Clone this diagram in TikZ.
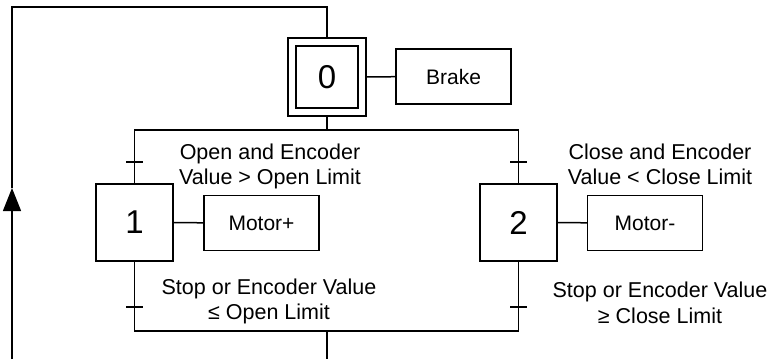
\documentclass[tikz,border=0pt]{standalone}
\usepackage{fontspec}
\setmainfont{Liberation Sans}
\usetikzlibrary{arrows.meta}
\begin{document}
\begin{tikzpicture}[x=1pt,y=-1pt,line width=1.5pt,
  actbox/.style={draw, minimum width=115pt, minimum height=55pt, inner sep=0pt, font=\fontsize{21}{25}\selectfont},
  stepbox/.style={draw, minimum size=77pt, inner sep=0pt, font=\fontsize{33}{36}\selectfont},
  lbl/.style={anchor=base, inner sep=0pt, font=\fontsize{21.5}{25}\selectfont}]
\useasboundingbox (0,0) rectangle (768,359);
% steps
\node[draw, minimum size=78pt, inner sep=0pt] (s0o) at (327,77) {};
\node[stepbox, minimum size=62pt] (s0) at (327,77) {0};
\node[stepbox] (s1) at (134.5,222.5) {1};
\node[stepbox] (s2) at (518.5,222.5) {2};
% actions
\node[actbox] (brake) at (453.5,76.5) {Brake};
\node[actbox] (mp) at (261.5,223) {Motor+};
\node[actbox] (mm) at (645,223) {Motor-};
\draw (s0o) -- (brake);
\draw (s1) -- (mp);
\draw (s2) -- (mm);
% divergence / convergence
\coordinate (jt) at (327,130);
\coordinate (jtl) at (134.5,130);
\coordinate (jtr) at (518.5,130);
\coordinate (jb) at (327,331);
\coordinate (jbl) at (134.5,331);
\coordinate (jbr) at (518.5,331);
\coordinate (bot) at (327,359);
\draw (s0o.south) -- (jt);
\draw (s1.north) -- (jtl) -- (jtr) -- (s2.north);
\draw (s1.south) -- (jbl) -- (jbr) -- (s2.south);
\draw (jb) -- (bot);
% transitions
\coordinate (t1) at (134.5,162);
\coordinate (t2) at (518.5,162);
\coordinate (t3) at (134.5,307);
\coordinate (t4) at (518.5,307);
\foreach \t in {t1,t2,t3,t4}
  \draw (\t) +(-8.5,0) -- +(8.5,0);
% loop back
\coordinate (lb) at (12,359);
\coordinate (la) at (12,188);
\coordinate (lt) at (12,7);
\coordinate (lr) at (327,7);
\draw[-{Triangle[width=18pt,length=23pt]}] (lb) -- (la);
\draw (la) -- (lt) -- (lr) -- (s0o.north);
% labels
\node[lbl] (c1a) at (270,159) {Open and Encoder};
\node[lbl] (c1b) at (270,184) {Value > Open Limit};
\node[lbl] (c2a) at (660,159) {Close and Encoder};
\node[lbl] (c2b) at (660,184) {Value < Close Limit};
\node[lbl] (c3a) at (269,294) {Stop or Encoder Value};
\node[lbl] (c3b) at (269,319) {≤ Open Limit};
\node[lbl] (c4a) at (660,297) {Stop or Encoder Value};
\node[lbl] (c4b) at (660,323) {≥ Close Limit};
\end{tikzpicture}
\end{document}
